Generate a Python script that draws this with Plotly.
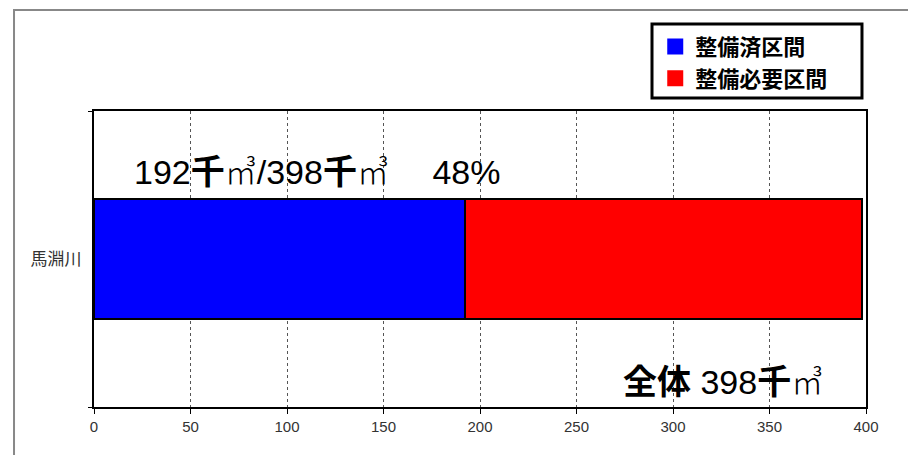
import plotly.graph_objects as go

# ---- data ----
categories = ["馬淵川"]
completed = [192]          # 整備済区間 (千m3)
total = [398]              # 全体 (千m3)
remaining = [t - c for t, c in zip(total, completed)]  # 整備必要区間
series_names = ["整備済区間", "整備必要区間"]
series_colors = ["#0000FF", "#FF0000"]
x_ticks = [0, 50, 100, 150, 200, 250, 300, 350, 400]

pct = round(completed[0] / total[0] * 100)

fig = go.Figure()
for name, vals, col in zip(series_names, [completed, remaining], series_colors):
    fig.add_trace(go.Bar(
        x=vals, y=categories, orientation="h", name=name,
        marker=dict(color=col, line=dict(color="black", width=2)),
        width=0.405, showlegend=False, legendgroup=name,
    ))
    # legend entry with a larger square icon
    fig.add_trace(go.Scatter(
        x=[None], y=[None], mode="markers", name=name, legendgroup=name,
        marker=dict(symbol="square", size=16, color=col),
    ))

cjk = "Liberation Sans, Arial, Noto Sans CJK JP"
m3 = '<span style="font-family:Noto Sans CJK JP;font-size:32px;font-weight:300">㎥</span>'

fig.add_annotation(
    x=19.5, y=0.80, xref="x", yref="paper", xanchor="left", yanchor="middle",
    showarrow=False,
    text=f"{completed[0]}<b>千</b>{m3}/{total[0]}<b>千</b>{m3}　 {pct}%",
    font=dict(family=cjk, size=34, color="black"),
)
fig.add_annotation(
    x=379, y=0.09, xref="x", yref="paper", xanchor="right", yanchor="middle",
    showarrow=False,
    text=f"<b>全体</b> {total[0]}<b>千</b>{m3}",
    font=dict(family=cjk, size=34, color="black"),
)

# outer frame (top and left edges)
fig.add_shape(type="path", xref="paper", yref="paper",
              path="M -0.1036 -0.2 L -0.1036 1.341 L 1.1 1.341",
              line=dict(color="#888888", width=2))
# legend border
fig.add_shape(type="rect", xref="paper", yref="paper",
              x0=0.7228, x1=0.9948, y0=1.044, y1=1.294,
              line=dict(color="black", width=3), fillcolor="rgba(0,0,0,0)")

fig.update_layout(
    width=908, height=455,
    margin=dict(l=94, r=42, t=111, b=48),
    paper_bgcolor="white", plot_bgcolor="white",
    barmode="stack", bargap=0,
    font=dict(family="Liberation Sans, Arial, Noto Sans CJK JP", color="#333333"),
    legend=dict(
        x=0.727, y=1.288, xanchor="left", yanchor="top",
        bgcolor="rgba(0,0,0,0)", borderwidth=0,
        font=dict(family="Noto Sans CJK JP", size=22, color="black", weight="bold"),
        tracegroupgap=0, itemwidth=30,
    ),
    xaxis=dict(
        range=[0, 400], tickvals=x_ticks, ticktext=[str(v) for v in x_ticks],
        showgrid=True, gridcolor="#555555", griddash="dot", gridwidth=1,
        showline=True, linecolor="black", linewidth=2, mirror=True,
        ticks="outside", ticklen=5, tickcolor="black", tickwidth=1,
        tickfont=dict(size=15, color="#333333"), zeroline=False,
    ),
    yaxis=dict(
        range=[-0.5, 0.5], showgrid=False,
        showline=True, linecolor="black", linewidth=2, mirror=True,
        ticks="outside", ticklen=4, tickcolor="black", tickson="boundaries",
        tickfont=dict(size=17, color="#333333", family="Noto Sans CJK JP"),
        ticklabelstandoff=7,
    ),
)

fig.write_html("out.html")
